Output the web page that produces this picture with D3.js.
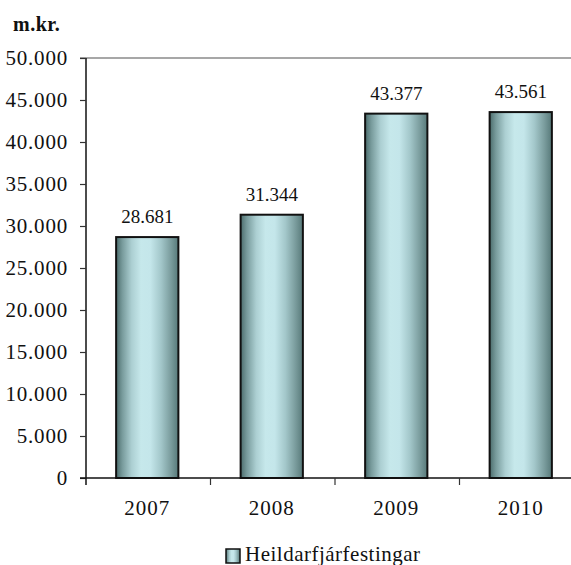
<!DOCTYPE html>
<html>
<head>
<meta charset="utf-8">
<script src="https://cdn.jsdelivr.net/npm/d3@7"></script>
<style>
  html, body { margin: 0; padding: 0; background: #fff; }
  svg { display: block; }
</style>
</head>
<body>
<svg id="chart" width="571" height="565"></svg>
<script>
// Total investment per year, millions of ISK
const years = ["2007", "2008", "2009", "2010"];
const values = [28681, 31344, 43377, 43561];
const valueLabels = ["28.681", "31.344", "43.377", "43.561"];
const yTicks = [0, 5000, 10000, 15000, 20000, 25000, 30000, 35000, 40000, 45000, 50000];
const seriesName = "Heildarfjárfestingar";
const unitLabel = "m.kr.";

const FONT = "Liberation Serif";
const svg = d3.select("#chart");
const margin = { left: 86, top: 58, bottom: 478, right: 584 };

const x = d3.scaleBand().domain(years).range([margin.left, margin.right]).paddingInner(0.5).paddingOuter(0.25);
const y = d3.scaleLinear().domain([0, 50000]).range([margin.bottom, margin.top]);

const fmt = v => v === 0 ? "0" : d3.format(",")(v).replace(/,/g, ".");

// Cylinder-like horizontal shading for the bars
const defs = svg.append("defs");
const grad = defs.append("linearGradient").attr("id", "barShade").attr("x1", "0").attr("x2", "1").attr("y1", "0").attr("y2", "0");
[[0, "#4b6c6c"], [0.1, "#789b9c"], [0.25, "#accfd2"], [0.4, "#c6e8eb"], [0.55, "#c4e6ea"], [0.72, "#a3c7ca"], [0.88, "#7a9c9d"], [1, "#577979"]]
  .forEach(([o, c]) => grad.append("stop").attr("offset", o).attr("stop-color", c));

// Top border line of plot
svg.append("line").attr("x1", 80).attr("x2", 571).attr("y1", y(50000)).attr("y2", y(50000))
  .attr("stroke", "#8a8a8a").attr("stroke-width", 1.5);

// Bars
svg.selectAll("rect.bar").data(years).join("rect").attr("class", "bar")
  .attr("x", d => x(d) - 1).attr("width", x.bandwidth())
  .attr("y", (d, i) => y(values[i])).attr("height", (d, i) => y(0) - y(values[i]))
  .attr("fill", "url(#barShade)").attr("stroke", "#111").attr("stroke-width", 2);

// Value labels
svg.selectAll("text.val").data(years).join("text").attr("class", "val")
  .attr("x", d => x(d) - 1 + x.bandwidth() / 2).attr("y", (d, i) => y(values[i]) - 14)
  .attr("text-anchor", "middle").attr("font-family", FONT).attr("font-size", 19).attr("fill", "#111")
  .text((d, i) => valueLabels[i]);

// Y axis
const yAxis = d3.axisLeft(y).tickValues(yTicks).tickFormat(fmt).tickSize(6).tickPadding(12);
const gy = svg.append("g").attr("transform", `translate(${margin.left},0)`).call(yAxis)
  .attr("font-family", FONT).attr("font-size", 21);
gy.select(".domain").attr("d", `M0,${y(50000)}V${y(0) + 7}`).attr("stroke", "#111").attr("stroke-width", 1.5);
gy.selectAll(".tick line").attr("stroke", "#333").attr("stroke-width", 1.2);
gy.selectAll(".tick text").attr("fill", "#111").attr("letter-spacing", 0.8);

// X axis line with ticks at band boundaries
svg.append("line").attr("x1", 80).attr("x2", 571).attr("y1", y(0)).attr("y2", y(0))
  .attr("stroke", "#111").attr("stroke-width", 1.5);
const step = x.step();
svg.selectAll("line.xt").data(years.slice(1)).join("line").attr("class", "xt")
  .attr("x1", d => x(d) - (step - x.bandwidth()) / 2)
  .attr("x2", d => x(d) - (step - x.bandwidth()) / 2)
  .attr("y1", y(0)).attr("y2", y(0) + 7).attr("stroke", "#333").attr("stroke-width", 1.2);

svg.selectAll("text.yr").data(years).join("text").attr("class", "yr")
  .attr("x", d => x(d) - 1 + x.bandwidth() / 2).attr("y", 515)
  .attr("text-anchor", "middle").attr("font-family", FONT).attr("font-size", 21).attr("letter-spacing", 1).attr("fill", "#111")
  .text(d => d);

// Unit label
svg.append("text").attr("x", 13).attr("y", 31).attr("font-family", FONT).attr("font-size", 20)
  .attr("font-weight", "bold").attr("letter-spacing", 0.5).attr("fill", "#111").text(unitLabel);

// Legend
svg.append("rect").attr("x", 226).attr("y", 549).attr("width", 14).attr("height", 14)
  .attr("fill", "url(#barShade)").attr("stroke", "#111").attr("stroke-width", 1.5);
svg.append("text").attr("x", 245).attr("y", 561).attr("font-family", FONT).attr("font-size", 21)
  .attr("letter-spacing", 0.5).attr("fill", "#111").text(seriesName);
</script>
</body>
</html>
